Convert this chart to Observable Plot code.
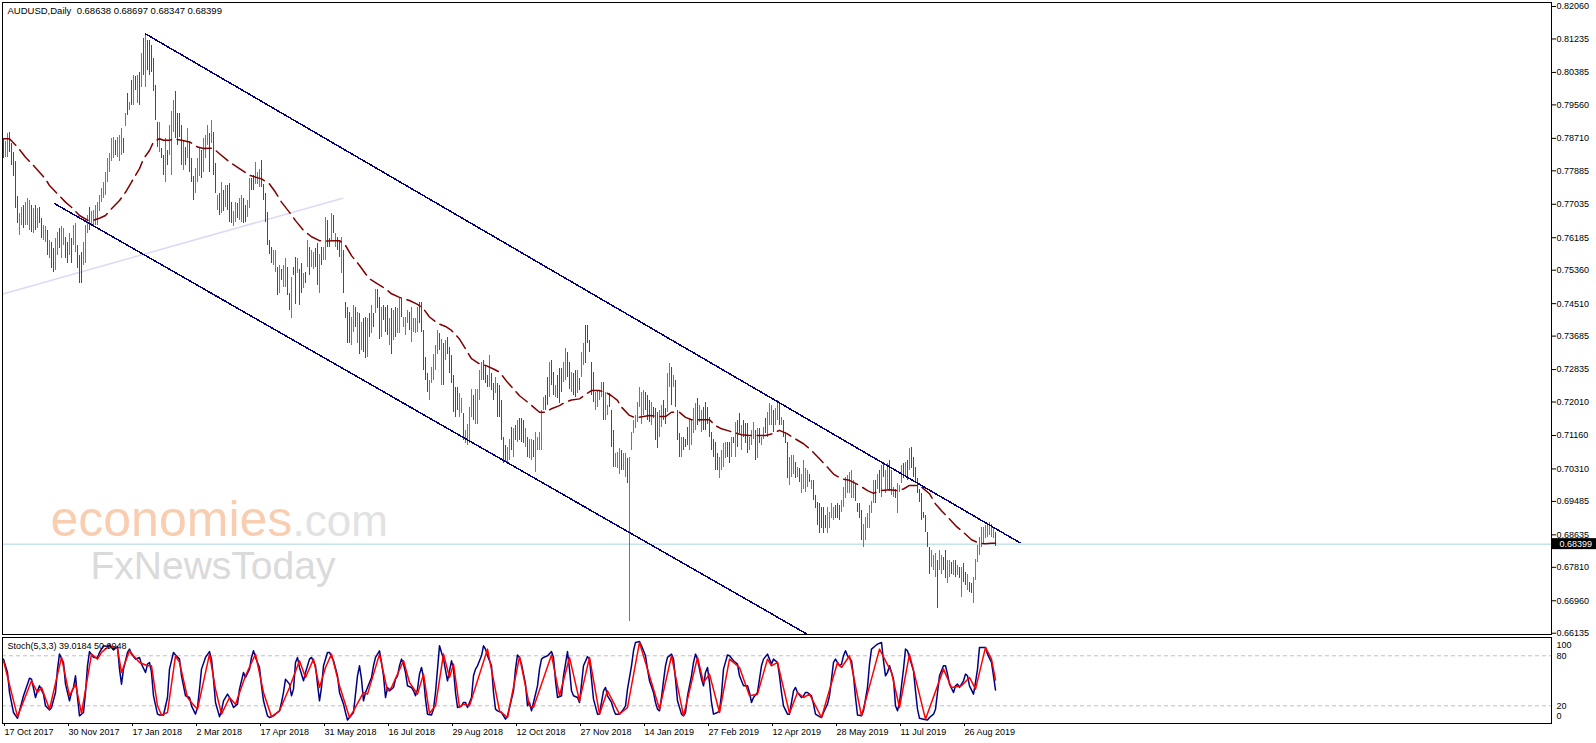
<!DOCTYPE html>
<html><head><meta charset="utf-8">
<script src="https://cdn.jsdelivr.net/npm/d3@7"></script>
<script src="https://cdn.jsdelivr.net/npm/@observablehq/plot@0.6"></script>
<style>
html,body{margin:0;padding:0;background:#fff;}
#chart svg{display:block;}
</style></head><body><div id="chart"></div>
<script>
// ---------- texts ----------
const symbolTitle = "AUDUSD,Daily\u00a0 0.68638 0.68697 0.68347 0.68399";
const stochTitle = "Stoch(5,3,3) 39.0184 50.9948";
const lastPrice = 0.68399;

// ---------- axes ----------
const priceTicks = [0.82060,0.81235,0.80385,0.79560,0.78710,0.77885,0.77035,0.76185,0.75360,0.74510,0.73685,0.72835,0.72010,0.71160,0.70310,0.69485,0.68635,0.67810,0.66960,0.66135];
const dateTickIdx = [0,32,64,96,128,160,192,224,256,288,320,352,384,416,448,480];
const dateLabels = ["17 Oct 2017","30 Nov 2017","17 Jan 2018","2 Mar 2018","17 Apr 2018","31 May 2018","16 Jul 2018","29 Aug 2018","12 Oct 2018","27 Nov 2018","14 Jan 2019","27 Feb 2019","12 Apr 2019","28 May 2019","11 Jul 2019","26 Aug 2019"];
const stochLevels = [80, 20];

// ---------- daily bars (price x 10000), one per trading day ----------
const barHigh = [
7870,7862,7883,7885,7857,7836,7811,7722,7679,7696, 7701,7709,7718,7713,7701,7692,7701,7692,7696,7667,
7650,7646,7637,7612,7607,7591,7616,7633,7641,7646, 7641,7620,7607,7629,7616,7650,7654,7599,7574,7582,
7607,7650,7675,7696,7684,7688,7701,7709,7726,7743, 7760,7785,7819,7832,7870,7874,7866,7874,7878,7895,
7870,7934,7984,7963,8018,8031,8027,8031,8039,8086, 8124,8137,8120,8120,8107,8073,8006,7912,7912,7845,
7828,7870,7840,7904,7938,7967,7989,7934,7934,7904, 7866,7849,7895,7862,7819,7773,7794,7819,7849,7840,
7870,7878,7904,7883,7917,7887,7806,7726,7730,7760, 7739,7751,7751,7756,7709,7684,7709,7705,7718,7726,
7718,7701,7713,7768,
7768,7776,7810,7785,7793,7815,7755,7730,7683,7611, 7594,7586,7586,7544,7548,7539,7548,7565,7544,7476,
7518,7544,7569,7565,7539,7552,7527,7531,7611,7594, 7586,7582,7590,7603,7577,7594,7594,7671,7662,7616,
7679,7675,7628,7620,7611,7620,7586,7455,7442,7429, 7416,7446,7442,7429,7425,7404,7412,7416,7412,7425,
7446,7425,7488,7488,7467,7442,7446,7442,7446,7412, 7438,7433,7442,7438,7467,7463,7416,7416,7433,7429,
7442,7412,7412,7442,7455,7455,7383,7315,7273,7256, 7290,7323,7344,7383,7374,7361,7349,7357,7366,7340,
7319,7268,7239,7239,7222,7209,7171,7129,7145,7188, 7234,7217,7234,7234,7281,7302,7306,7294,7268,7319,
7273,7247,7264,7247,
7243,7205,7112,7090,7086,7107,7137,7133,7141,7154, 7158,7158,7154,7133,7112,7107,7107,7103,7124,7112,
7124,7179,7213,7217,7264,7302,7306,7277,7243,7268, 7285,7285,7302,7336,7328,7302,7277,7273,7281,7281,
7260,7328,7349,7395,7395,7357,7302,7277,7226,7230, 7230,7251,7251,7226,7192,7222,7179,7129,7069,7074,
7082,7078,7069,7069,7057,7060,7124,7154,7167,7201, 7239,7226,7230,7226,7217,7205,7201,7188,7184,7175,
7179,7192,7205,7184,7273,7298,7290,7268,7256,7179, 7120,7112,7112,7107,7137,7158,7154,7184,7196,7209,
7192,7179,7188,7201,7188,7162,7124,7107,7099,7069, 7061,7078,7095,7099,7099,7099,7112,7112,7150,7154,
7171,7141,7154,7146,7146,
7112,7129,7150,7129,7133,7133,7112,7137,7158,7175, 7196,7192,7179,7184,7205,7196,7162,7154,7124,7099,
7061,7065,7065,7048,7035,7031,7018,7052,7031,7027, 7018,7002,7002,6963,6946,6942,6934,6934,6913,6934,
6921,6942,6934,6938,6942,6938,6951,6985,7010,7014, 7023,7027,7002,6993,6942,6942,6925,6891,6908,6917,
6938,6947,7002,7002,7018,7027,7040,7048,7027,7044, 7052,7027,6985,6980,6993,6989,7040,7044,7048,7052,
7082,7086,7061,7035,7006,6980,6968,6921,6913,6870, 6832,6824,6811,6815,6798,6824,6811,6807,6824,6798,
6798,6794,6798,6798,6786,6781,6781,6790,6769,6764, 6743,6739,6756,6802,6836,6858,6883,6883,6887,6891,
6896,6891,6883,6870
];
const barLow = [
7819,7823,7823,7836,7802,7773,7692,7654,7624,7650, 7641,7650,7650,7637,7633,7629,7637,7641,7654,7616,
7612,7607,7574,7565,7540,7531,7535,7574,7591,7565, 7599,7565,7552,7574,7552,7599,7582,7540,7502,7502,
7548,7552,7629,7637,7650,7650,7650,7650,7684,7709, 7718,7726,7760,7785,7811,7819,7828,7823,7811,7828,
7832,7900,7929,7942,7955,7955,7993,7959,7955,8001, 8031,8001,8044,8031,8039,7989,7917,7849,7836,7819,
7777,7760,7802,7828,7777,7887,7870,7853,7874,7802, 7790,7802,7819,7785,7760,7713,7730,7760,7773,7768,
7785,7819,7853,7785,7857,7777,7730,7688,7675,7679, 7684,7696,7688,7658,7654,7646,7658,7667,7663,7658,
7654,7658,7671,7692,
7738,7738,7755,7755,7747,7747,7713,7658,7599,7577, 7552,7548,7531,7472,7476,7510,7493,7493,7472,7433,
7412,7522,7450,7527,7446,7476,7489,7501,7544,7522, 7544,7539,7544,7497,7476,7548,7560,7560,7594,7594,
7611,7628,7594,7586,7569,7527,7476,7412,7349,7349, 7344,7378,7391,7349,7323,7332,7328,7311,7315,7366,
7374,7391,7425,7438,7361,7366,7408,7378,7370,7344, 7323,7357,7366,7374,7374,7416,7391,7370,7400,7383,
7353,7378,7374,7378,7400,7378,7281,7256,7226,7205, 7247,7256,7281,7323,7332,7243,7243,7306,7323,7273,
7247,7175,7162,7179,7162,7171,7103,7095,7090,7095, 7162,7154,7145,7145,7205,7256,7256,7247,7239,7239,
7230,7205,7222,7162,
7162,7103,7044,7048,7044,7052,7078,7061,7103,7099, 7103,7099,7095,7086,7061,7057,7052,7061,7023,7078,
7078,7078,7179,7179,7192,7213,7243,7217,7213,7209, 7196,7226,7251,7256,7264,7234,7226,7217,7213,7222,
7230,7264,7294,7298,7349,7328,7217,7201,7179,7188, 7205,7213,7154,7154,7167,7188,7086,7035,7035,7031,
7018,7027,7027,7010,6993,6644,7078,7120,7133,7150, 7188,7145,7167,7179,7154,7150,7141,7158,7103,7082,
7112,7137,7154,7145,7175,7239,7192,7239,7188,7103, 7061,7061,7078,7086,7090,7078,7090,7120,7129,7141,
7150,7124,7129,7129,7145,7112,7078,7061,7027,7027, 7006,7027,7035,7057,7061,7044,7061,7095,7061,7086,
7120,7078,7112,7095,7069,
7078,7091,7107,7052,7057,7095,7091,7107,7120,7112, 7141,7141,7124,7141,7154,7141,7141,7112,7095,7006,
6989,7010,7018,7006,7010,6997,6968,6980,6972,6985, 6997,6980,6951,6930,6887,6866,6879,6866,6879,6866,
6879,6904,6900,6904,6904,6900,6921,6934,6955,6968, 6968,6955,6955,6947,6921,6904,6849,6832,6849,6879,
6879,6917,6942,6942,6980,6968,6959,7010,6968,6980, 6976,6963,6959,6955,6917,6972,6993,7006,7010,7002,
7027,7031,7010,6993,6968,6946,6900,6904,6870,6832, 6764,6781,6773,6756,6677,6773,6764,6773,6752,6739,
6756,6764,6760,6756,6760,6752,6705,6743,6735,6722, 6718,6714,6688,6747,6794,6811,6832,6841,6853,6858,
6862,6858,6853,6835
];
// u = up bar (steel blue), d = down bar (red)
const barDir = [
"duuddddduu","duuudududd","uududduudu","udduduuddd","uuuduuuuuu","uuuuuuduuu","dududududu","duddddddud","duduuudddd","ududdduuud","uuududdudu","duddduuduu","dduu",
"dduuuddddd","duududuudd","udduddudud","uudduduudd","ududdudddd","uudududdud","ududdudddu","duduuduuud","uuuudddddu","uuuudududd","dddduuduuu","uduuuudddu","ddud",
"dddduududu","ddduduuduu","uuudduddud","dduudduddu","duuddddduu","uuduuddduu","uduuduuuuu","uuuddduddd","uudduududd","duddduuuud","uudddddddd","uuuuddudud","duddd",
"uuududuudu","uuduududdd","uuududuuuu","dudddddddu","uuuddduuuu","uuudddduuu","uuudududuu","duuduuudud","uddddddddd","duuuduuddu","ududududdu","dduuuuuuuu","uuud"
].join("");

// ---------- moving average (bar index, price x 10000) ----------
const maPoints = [[0,7870],[3,7870],[7,7849],[11,7823],[15,7802],[18,7785],[21,7768],[23,7751],[27,7730],[31,7709],[34,7696],[38,7675],[42,7663],[45,7663],[48,7668],[51,7675],[54,7692],[58,7713],[61,7734],[64,7760],[68,7794],[70,7819],[73,7840],[75,7862],[78,7870],[80,7866],[83,7866],[85,7870],[89,7866],[93,7862],[97,7849],[100,7845],[103,7846],[105,7845],[108,7832],[113,7811],[118,7794],[123,7777],[129,7768],[133,7755],[136,7734],[139,7709],[143,7683],[146,7662],[150,7637],[154,7621],[158,7611],[162,7610],[165,7611],[168,7611],[171,7599],[174,7573],[178,7548],[181,7527],[183,7514],[187,7501],[191,7489],[194,7476],[198,7467],[203,7459],[207,7449],[210,7438],[213,7417],[217,7401],[221,7393],[224,7383],[228,7361],[231,7336],[234,7311],[238,7298],[241,7294],[245,7285],[248,7277],[252,7251],[255,7234],[258,7217],[262,7201],[265,7188],[268,7175],[271,7175],[274,7184],[278,7192],[281,7201],[284,7206],[288,7209],[291,7220],[294,7230],[298,7230],[301,7226],[304,7217],[307,7205],[309,7188],[313,7167],[316,7161],[320,7164],[323,7167],[328,7164],[331,7164],[334,7175],[338,7175],[341,7162],[344,7156],[348,7156],[353,7156],[356,7141],[359,7133],[363,7127],[366,7122],[369,7118],[373,7116],[376,7116],[381,7116],[384,7120],[388,7129],[392,7120],[396,7107],[400,7095],[404,7078],[408,7057],[412,7035],[415,7018],[419,7006],[423,7002],[428,6989],[432,6976],[435,6969],[438,6976],[443,6978],[447,6976],[450,6980],[453,6989],[457,6989],[459,6985],[463,6968],[466,6942],[469,6925],[473,6904],[476,6887],[480,6870],[484,6851],[488,6842],[491,6841],[494,6842],[496,6842]];

// ---------- trend lines (bar index, price) ----------
const channelUpper = [[71, 0.81366], [508.25, 0.68433]];
const channelLower = [[25.75, 0.77047], [402.1, 0.66103]];
const supportLine = [[-0.75, 0.74750], [169.6, 0.77189]];

// ---------- stochastic (bar index, value) ----------
const stochMain = [[0,76],[2,60],[3,36],[5,12],[7,5],[8,14],[10,32],[12,46],[13,53],[14,52],[16,30],[17,38],[18,44],[20,34],[21,20],[23,15],[24,18],[26,36],[27,64],[28,82],[30,72],[31,46],[33,26],[34,36],[35,42],[36,56],[37,30],[38,8],[40,12],[41,36],[42,68],[43,85],[45,78],[47,78],[48,84],[50,92],[52,91],[53,93],[55,87],[57,91],[58,64],[59,46],[60,64],[62,84],[63,88],[64,82],[66,76],[68,78],[69,70],[71,60],[72,70],[73,72],[74,60],[75,32],[77,10],[78,9],[80,9],[82,30],[83,64],[85,84],[86,81],[88,76],[89,56],[91,32],[93,30],[94,20],[96,10],[97,18],[98,40],[99,64],[101,78],[103,85],[104,76],[105,52],[106,24],[108,7],[109,14],[110,26],[112,34],[113,30],[115,18],[117,22],[118,40],[120,60],[121,54],[123,64],[124,78],[125,86],[126,78],[128,66],[129,44],[130,26],[132,8],[133,6],[135,8],[137,12],[138,14],[139,24],[140,36],[141,52],[143,46],[144,32],[145,40],[146,72],[147,78],[148,66],[150,50],[151,60],[153,76],[154,78],[156,68],[157,46],[158,26],[159,42],[160,68],[162,84],[163,84],[165,74],[167,56],[168,36],[170,22],[171,12],[172,3],[173,6],[175,12],[176,34],[177,56],[178,68],[179,52],[180,26],[181,36],[182,42],[184,54],[185,68],[186,78],[188,86],[189,72],[190,56],[191,30],[192,42],[193,38],[195,42],[196,52],[197,56],[198,68],[199,76],[200,70],[201,60],[202,44],[204,42],[205,38],[206,32],[207,40],[208,58],[209,66],[210,54],[211,28],[212,10],[214,9],[215,16],[216,36],[217,64],[218,92],[219,84],[220,76],[222,50],[223,62],[224,74],[225,64],[226,36],[227,18],[229,20],[230,24],[231,24],[232,18],[234,30],[235,56],[236,64],[237,68],[239,80],[240,92],[241,88],[242,80],[244,68],[245,36],[246,16],[247,14],[249,12],[251,4],[252,8],[253,18],[255,38],[256,64],[257,81],[258,78],[259,70],[261,46],[262,20],[263,24],[264,14],[265,24],[267,44],[268,64],[269,76],[270,78],[272,80],[274,85],[275,78],[276,50],[277,30],[279,32],[280,56],[282,85],[283,64],[284,38],[285,32],[287,30],[288,24],[289,46],[290,68],[292,79],[293,76],[294,52],[295,28],[297,10],[298,10],[299,24],[300,38],[301,42],[302,32],[304,24],[305,16],[306,10],[308,10],[310,16],[311,20],[312,40],[314,68],[315,86],[316,96],[318,97],[319,92],[321,80],[322,64],[323,50],[325,36],[326,24],[327,16],[328,14],[329,30],[330,50],[331,68],[332,78],[334,82],[335,76],[336,52],[337,26],[339,10],[340,8],[341,12],[342,32],[344,56],[345,72],[346,82],[347,76],[349,52],[350,44],[351,60],[352,66],[353,48],[354,24],[355,10],[357,12],[358,14],[359,34],[360,64],[362,81],[363,80],[365,74],[367,70],[368,56],[370,44],[372,44],[373,36],[374,24],[375,30],[377,36],[378,52],[379,68],[380,76],[382,82],[383,76],[384,70],[385,76],[387,72],[388,56],[389,36],[390,20],[392,10],[393,10],[394,24],[395,38],[396,42],[397,36],[399,30],[400,32],[401,36],[402,36],[404,32],[405,22],[406,10],[408,7],[409,6],[410,12],[412,22],[413,32],[414,52],[415,72],[416,76],[418,68],[419,70],[420,80],[421,86],[422,80],[424,74],[425,56],[426,30],[427,9],[429,8],[430,14],[432,42],[433,70],[434,88],[436,92],[437,94],[439,96],[440,74],[441,56],[442,60],[443,68],[445,52],[446,20],[447,14],[448,24],[450,64],[451,88],[452,86],[453,78],[455,62],[456,38],[457,16],[458,5],[460,4],[462,3],[463,6],[465,10],[466,16],[467,36],[468,56],[470,68],[471,68],[472,58],[473,46],[475,36],[476,44],[477,46],[478,42],[480,50],[481,58],[482,56],[483,44],[485,34],[486,48],[487,64],[488,90],[490,90],[491,90],[492,82],[494,72],[495,56],[496,39]];
const stochSignal = [[0,74],[7,7],[14,50],[17,36],[19,42],[23,16],[29,78],[33,32],[36,46],[39,11],[44,82],[47,76],[49,84],[52,90],[54,91],[57,89],[59,60],[63,86],[65,80],[68,72],[72,68],[74,68],[77,20],[79,9],[82,12],[86,80],[88,72],[92,30],[94,24],[97,16],[103,82],[106,40],[109,10],[113,30],[116,22],[121,56],[126,82],[130,36],[134,7],[138,14],[143,42],[148,74],[151,54],[155,76],[158,42],[161,66],[164,82],[168,44],[173,6],[175,14],[180,36],[182,34],[188,82],[192,38],[194,42],[200,74],[203,48],[207,34],[210,58],[213,11],[216,20],[220,82],[223,54],[225,70],[228,18],[230,22],[233,20],[242,88],[248,14],[252,6],[258,79],[263,20],[265,18],[274,81],[278,32],[283,78],[288,26],[293,78],[298,10],[302,38],[308,10],[312,18],[318,96],[328,16],[334,80],[340,8],[347,78],[350,48],[353,58],[358,12],[363,76],[368,66],[373,32],[377,34],[382,76],[384,68],[387,72],[393,11],[397,36],[400,30],[403,34],[409,6],[417,72],[419,66],[423,80],[429,8],[438,88],[444,60],[448,18],[453,82],[461,4],[470,64],[474,42],[479,44],[483,54],[486,40],[491,90],[494,76],[496,51]];

// ---------- build ----------
const toPrice = p => p / 10000;
const bars = barHigh.map((h, i) => ({i, hi: toPrice(h), lo: toPrice(barLow[i]), up: barDir[i] === "u"}));
const ma = maPoints.map(([i, p]) => ({i, v: toPrice(p)}));
const seg = a => a.map(([i, p]) => ({i, p}));
const st = a => a.map(([i, v]) => ({i, v}));

const W = 1596, MAIN_H = 636, STOCH_H = 107, M_L = 2, M_R = 45;
const xDomain = [-0.5, 774];
const font = "'Liberation Sans', Arial, sans-serif";
const baseStyle = {fontFamily: font, fontSize: "9px", background: "white", color: "black", overflow: "visible"};

const main = Plot.plot({
  width: W, height: MAIN_H,
  marginLeft: M_L, marginRight: M_R, marginTop: 2, marginBottom: 2,
  style: baseStyle,
  x: {domain: xDomain, axis: null},
  y: {domain: [0.66103, 0.82162], axis: null},
  marks: [
    Plot.text(["economies"], {frameAnchor: "top-left", dx: 48, dy: 497.5, lineAnchor: "top", textAnchor: "start", fontSize: 50, fill: "#f9cdb0"}),
    Plot.text([".com"], {frameAnchor: "top-left", dx: 290, dy: 501.8, lineAnchor: "top", textAnchor: "start", fontSize: 44, fill: "#e2e2e2"}),
    Plot.text(["FxNewsToday"], {frameAnchor: "top-left", dx: 88, dy: 549, lineAnchor: "top", textAnchor: "start", fontSize: 39, fill: "#dadada"}),
    Plot.line(seg(supportLine), {x: "i", y: "p", stroke: "#dcd8f6", clip: true}),
    Plot.ruleY([lastPrice], {stroke: "#a9d6de"}),
    Plot.ruleX(bars.filter(d => d.up), {x: "i", y1: "lo", y2: "hi", stroke: "#4682b4", shapeRendering: "crispEdges"}),
    Plot.ruleX(bars.filter(d => !d.up), {x: "i", y1: "lo", y2: "hi", stroke: "#ff0000", shapeRendering: "crispEdges"}),
    Plot.line(ma, {x: "i", y: "v", stroke: "#800000", strokeDasharray: "15,6", clip: true}),
    Plot.line(seg(channelUpper), {x: "i", y: "p", stroke: "#000080", clip: true, shapeRendering: "crispEdges"}),
    Plot.line(seg(channelLower), {x: "i", y: "p", stroke: "#000080", clip: true, shapeRendering: "crispEdges"}),
    Plot.frame({stroke: "black", shapeRendering: "crispEdges"}),
    Plot.axisY({anchor: "right", ticks: priceTicks, tickSize: 4, tickPadding: 1, tickFormat: d => d.toFixed(5), label: null}),
    Plot.text([symbolTitle], {frameAnchor: "top-left", dx: 5, dy: 5, lineAnchor: "top", textAnchor: "start", fontSize: 9.5, fill: "black"})
  ]
});

// last price marker on the price axis
{
  const yS = main.scale("y");
  const yy = yS.apply(lastPrice);
  const g = d3.select(main).append("g");
  g.append("rect").attr("x", W - M_R + 1).attr("y", yy - 5.5).attr("width", M_R - 1).attr("height", 11).attr("fill", "black");
  g.append("text").attr("x", W - 4).attr("y", yy).attr("dy", "0.35em").attr("fill", "white")
    .attr("text-anchor", "end").attr("font-size", 9).attr("font-family", font).text(lastPrice.toFixed(5));
}

const stoch = Plot.plot({
  width: W, height: STOCH_H,
  marginLeft: M_L, marginRight: M_R, marginTop: 1, marginBottom: 20,
  style: baseStyle,
  x: {domain: xDomain, axis: null},
  y: {domain: [-1.2, 101.92], axis: null},
  marks: [
    Plot.ruleY(stochLevels, {stroke: "#c0c0c0", strokeDasharray: "4,3"}),
    Plot.line(st(stochMain), {x: "i", y: "v", stroke: "#000080", clip: true}),
    Plot.line(st(stochSignal), {x: "i", y: "v", stroke: "#ff0000", clip: true}),
    Plot.frame({stroke: "black", shapeRendering: "crispEdges"}),
    Plot.text([stochTitle], {frameAnchor: "top-left", dx: 5, dy: 5, lineAnchor: "top", textAnchor: "start", fill: "black"}),
    Plot.text(stochLevels, {y: d => d, frameAnchor: "right", dx: 5, textAnchor: "start", fill: "black"}),
    Plot.text([100], {y: d => d, frameAnchor: "right", dx: 5, dy: 6, textAnchor: "start", fill: "black"}),
    Plot.text([0], {y: d => d, frameAnchor: "right", dx: 5, dy: -6, textAnchor: "start", fill: "black"}),
    Plot.axisX({anchor: "bottom", ticks: dateTickIdx, tickFormat: d => dateLabels[dateTickIdx.indexOf(d)], tickSize: 3, tickPadding: 2, textAnchor: "start", dx: 1, label: null})
  ]
});

document.getElementById("chart").append(main, stoch);
</script>
</body></html>
